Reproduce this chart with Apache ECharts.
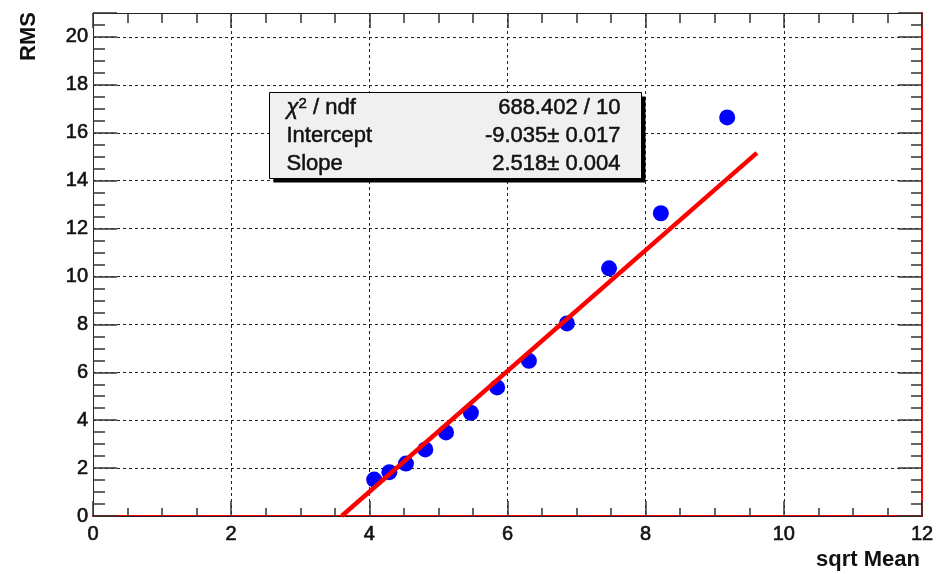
<!DOCTYPE html>
<html>
<head>
<meta charset="utf-8">
<script src="https://cdn.jsdelivr.net/npm/echarts@6/dist/echarts.min.js"></script>
<style>
  html, body { margin: 0; padding: 0; background: #fff; }
  #chart { width: 945px; height: 574px; }
</style>
</head>
<body>
<div id="chart"></div>
<script>
  // measured points (sqrt Mean, RMS)
  var sqrtMean = [4.07, 4.29, 4.53, 4.81, 5.11, 5.47, 5.85, 6.31, 6.86, 7.47, 8.22, 9.18];
  var rms = [1.52, 1.83, 2.19, 2.78, 3.49, 4.31, 5.37, 6.48, 8.04, 10.34, 12.64, 16.64];
  // fitted straight line, ends
  var fitX = [3.6, 9.61];
  var fitY = [0, 15.16];
  // fit statistics box
  var statNames = ['Intercept', 'Slope'];
  var statValues = ['688.402 / 10', '-9.035\u00b1 0.017', '2.518\u00b1 0.004'];

  var font = 'Liberation Sans';
  var ink = '#111';
  var chart = echarts.init(document.getElementById('chart'));

  function axis(pos, major, min, max, len, opts) {
    var a = {
      type: 'value', position: pos, min: min, max: max, interval: major ? 2 : 0.5,
      axisLine: { show: true, onZero: false, lineStyle: { color: '#222', width: 1 } },
      axisTick: { show: true, inside: true, length: len, lineStyle: { color: '#333', width: 1.5 } },
      axisLabel: { show: false },
      splitLine: { show: false }
    };
    return Object.assign(a, opts || {});
  }

  function boxText(x, y, text, right) {
    return {
      type: 'text', x: x, y: y, z: 102,
      style: {
        text: text, fontFamily: font, fontSize: 22, fill: ink,
        stroke: ink, lineWidth: 0.5,
        align: right ? 'right' : 'left', verticalAlign: 'middle'
      }
    };
  }

  var points = sqrtMean.map(function (x, i) { return [x, rms[i]]; });
  var fit = fitX.map(function (x, i) { return [x, fitY[i]]; });

  var dotted = { show: true, lineStyle: { color: '#222', type: [3, 3], width: 1 } };
  var labelStyle = {
    show: true, color: ink, fontFamily: font, fontSize: 20,
    textBorderColor: ink, textBorderWidth: 0.6
  };
  var redLine = { show: true, onZero: false, lineStyle: { color: '#ff0000', width: 2 } };

  chart.setOption({
    animation: false,
    backgroundColor: '#fff',
    grid: { left: 93, right: 23, top: 13, bottom: 58 },
    xAxis: [
      axis('bottom', true, 0, 12, 15, {
        axisLine: redLine,
        axisLabel: Object.assign({ margin: 8 }, labelStyle),
        splitLine: dotted
      }),
      axis('bottom', false, 0, 12, 8),
      axis('top', true, 0, 12, 15),
      axis('top', false, 0, 12, 10)
    ],
    yAxis: [
      axis('left', true, 0, 21, 24, {
        axisLabel: Object.assign({
          margin: 5,
          formatter: function (v) { return v % 2 === 0 ? v : ''; }
        }, labelStyle),
        splitLine: dotted
      }),
      axis('left', false, 0, 21, 12),
      axis('right', true, 0, 21, 24, { axisLine: redLine }),
      axis('right', false, 0, 21, 11, { axisLine: redLine })
    ],
    series: [
      {
        type: 'scatter', xAxisIndex: 0, yAxisIndex: 0, data: points,
        symbol: 'circle', symbolSize: 16,
        itemStyle: { color: '#0000ff', opacity: 1 }, z: 3
      },
      {
        type: 'line', xAxisIndex: 0, yAxisIndex: 0, data: fit,
        showSymbol: false, lineStyle: { color: '#ff0000', width: 4.5 }, z: 4
      }
    ],
    graphic: [
      {
        type: 'text', left: 18, top: 12, rotation: Math.PI / 2, z: 100,
        style: { text: 'RMS', fontFamily: font, fontSize: 22, fontWeight: 'bold', fill: ink }
      },
      {
        type: 'text', right: 25, top: 549, z: 100,
        style: { text: 'sqrt Mean', fontFamily: font, fontSize: 22, fontWeight: 'bold', fill: ink }
      },
      {
        type: 'group', left: 269, top: 92, z: 100,
        children: [
          { type: 'rect', z: 100, shape: { x: 4, y: 4, width: 372, height: 86 }, style: { fill: '#000' } },
          { type: 'rect', z: 101, shape: { x: 0, y: 0, width: 372, height: 86 },
            style: { fill: '#f0f0f0', stroke: '#000', lineWidth: 1 } },
          { type: 'text', x: 17, y: 15, z: 102, style: {
              text: '{g|\u03c7}{s|2}{n| / ndf}', verticalAlign: 'middle',
              rich: {
                g: { fontFamily: font, fontSize: 22, fontStyle: 'italic', fill: ink },
                s: { fontFamily: font, fontSize: 15, fill: ink, verticalAlign: 'top' },
                n: { fontFamily: font, fontSize: 22, fill: ink }
              },
              stroke: ink, lineWidth: 0.5 } },
          boxText(17, 43, statNames[0]),
          boxText(17, 71, statNames[1]),
          boxText(351, 15, statValues[0], true),
          boxText(351, 43, statValues[1], true),
          boxText(351, 71, statValues[2], true)
        ]
      }
    ]
  });

  window.onresize = function () {
    chart.resize();
  };
</script>
</body>
</html>
